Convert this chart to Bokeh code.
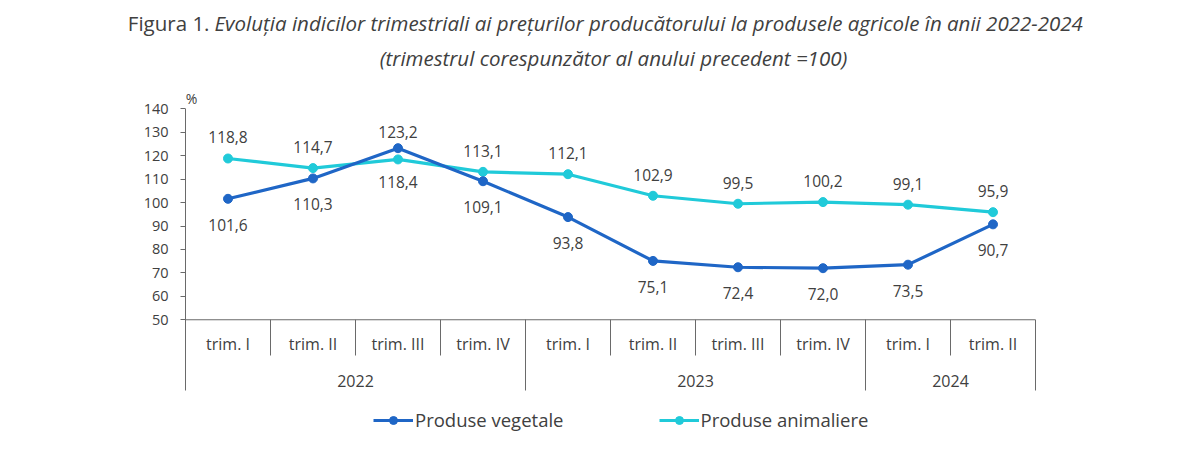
from bokeh.plotting import figure
from bokeh.models import ColumnDataSource, Range1d, FixedTicker, Legend, LegendItem
from bokeh.core.properties import value
from bokeh.embed import file_html
from bokeh.resources import INLINE

# ---- data ----
quarters = ["trim. I", "trim. II", "trim. III", "trim. IV",
            "trim. I", "trim. II", "trim. III", "trim. IV",
            "trim. I", "trim. II"]
years = ["2022", "2023", "2024"]
year_counts = [4, 4, 2]
vegetale = [101.6, 110.3, 123.2, 109.1, 93.8, 75.1, 72.4, 72.0, 73.5, 90.7]
animaliere = [118.8, 114.7, 118.4, 113.1, 112.1, 102.9, 99.5, 100.2, 99.1, 95.9]
y_ticks = [50, 60, 70, 80, 90, 100, 110, 120, 130, 140]

title_bold = "Figura 1."
title_italic = ("Evoluția indicilor trimestriali ai prețurilor producătorului "
                "la produsele agricole în anii 2022-2024")
subtitle = "(trimestrul corespunzător al anului precedent =100)"
unit_label = "%"
name_veg = "Produse vegetale"
name_anim = "Produse animaliere"

# ---- styles / layout ----
FONT = "Open Sans"
TXT = "#404040"
AX = "#6a6a6a"
C_VEG = "#1f66c6"
C_ANIM = "#20cad9"
W, H = 1192, 448
PX_PER_UNIT = 2.344          # vertical scale of the value axis
TOP_PX = 108.3               # where 140 sits from the top
LEFT_PX = 185                # where the value axis sits
CELL_PX = 85                 # width of one quarter
Y_TOP = 140
Y_END = Y_TOP + TOP_PX / PX_PER_UNIT
Y_START = Y_TOP - (H - TOP_PX) / PX_PER_UNIT
X_START = -LEFT_PX / CELL_PX
X_END = (W - LEFT_PX) / CELL_PX

def y_at(px):
    return Y_TOP - (px - TOP_PX) / PX_PER_UNIT

def x_at(px):
    return (px - LEFT_PX) / CELL_PX

n = len(quarters)
xs = [i + 0.5 for i in range(n)]

p = figure(width=W, height=H, output_backend="svg", toolbar_location=None,
           x_range=Range1d(X_START, X_END), y_range=Range1d(Y_START, Y_END),
           x_axis_location=None, y_axis_location="left",
           min_border_left=0, min_border_right=0,
           min_border_top=0, min_border_bottom=0)
p.outline_line_color = None
p.xgrid.visible = False
p.ygrid.visible = False
p.background_fill_color = "white"
p.border_fill_color = "white"

yax = p.yaxis[0]
yax.fixed_location = 0
yax.ticker = FixedTicker(ticks=y_ticks)
yax.minor_tick_line_color = None
yax.major_tick_in = 0
yax.major_tick_out = 5
yax.axis_line_color = None
yax.major_tick_line_color = AX
yax.major_label_text_font = FONT
yax.major_label_text_font_size = "14.5px"
yax.major_label_text_color = TXT
yax.major_label_standoff = 12

Y_TRIM_SEP = y_at(355)
Y_YEAR_SEP = y_at(390)

# vertical axis line (continues down as left edge of the category table)
p.segment(x0=[0], y0=[Y_TOP], x1=[0], y1=[Y_YEAR_SEP], line_color=AX, line_width=1)
# axis baseline at 50
p.segment(x0=[0], y0=[y_ticks[0]], x1=[n], y1=[y_ticks[0]], line_color=AX, line_width=1)

# category separators
sep_x = list(range(1, n))
p.segment(x0=sep_x, y0=[y_ticks[0]] * len(sep_x), x1=sep_x, y1=[Y_TRIM_SEP] * len(sep_x),
          line_color=AX, line_width=1)
bounds = []
acc = 0
for c in year_counts:
    acc += c
    bounds.append(acc)
p.segment(x0=bounds, y0=[y_ticks[0]] * len(bounds), x1=bounds, y1=[Y_YEAR_SEP] * len(bounds),
          line_color=AX, line_width=1)

# category labels
p.text(x=xs, y=[y_at(343)] * n, text=quarters, text_align="center", text_baseline="middle",
       text_font=value(FONT), text_font_size="16px", text_color=TXT)
year_x = []
start = 0
for c in year_counts:
    year_x.append(start + c / 2)
    start += c
p.text(x=year_x, y=[y_at(380)] * len(years), text=years, text_align="center",
       text_baseline="middle", text_font=value(FONT), text_font_size="16px",
       text_color=TXT)

# series
la = p.line(xs, animaliere, line_color=C_ANIM, line_width=3.2)
sa = p.scatter(xs, animaliere, size=9, fill_color=C_ANIM, line_color=C_ANIM)
lv = p.line(xs, vegetale, line_color=C_VEG, line_width=3.2)
sv = p.scatter(xs, vegetale, size=9, fill_color=C_VEG, line_color=C_VEG)

def fmt(v):
    return f"{v:.1f}".replace(".", ",")

lab_x, lab_y, lab_t, lab_dy = [], [], [], []
for i in range(n):
    v, a = vegetale[i], animaliere[i]
    lab_x += [xs[i], xs[i]]
    lab_y += [v, a]
    lab_t += [fmt(v), fmt(a)]
    if v > a:
        lab_dy += [-16, 23]
    else:
        lab_dy += [26, -21]
src = ColumnDataSource(dict(x=lab_x, y=lab_y, t=lab_t, dy=lab_dy))
p.text(x="x", y="y", text="t", y_offset="dy", source=src, text_align="center",
       text_baseline="middle", text_font=value(FONT), text_font_size="15.5px",
       text_color=TXT)

# titles and unit
p.text(x=[x_at(209)], y=[y_at(22)], text=[title_bold], text_align="right",
       text_baseline="middle", text_font=value(FONT), text_font_size="20.5px",
       text_color=TXT)
p.text(x=[x_at(214)], y=[y_at(22)], text=[title_italic], text_align="left",
       text_baseline="middle", text_font=value(FONT), text_font_size="20.5px",
       text_font_style="italic", text_color=TXT)
p.text(x=[x_at(613)], y=[y_at(57)], text=[subtitle], text_align="center",
       text_baseline="middle", text_font=value(FONT), text_font_size="20.5px",
       text_font_style="italic", text_color=TXT)
p.text(x=[x_at(191)], y=[y_at(98)], text=[unit_label], text_align="center",
       text_baseline="middle", text_font=value(FONT), text_font_size="14px",
       text_color=TXT)

legend = Legend(items=[LegendItem(label=name_veg, renderers=[lv, sv]),
                       LegendItem(label=name_anim, renderers=[la, sa])],
                orientation="horizontal", location=(373, 16),
                glyph_width=40, glyph_height=20, label_standoff=2, spacing=95,
                padding=0, margin=0, border_line_color=None,
                background_fill_alpha=0,
                label_text_font=FONT, label_text_font_size="18.5px",
                label_text_color=TXT)
p.add_layout(legend)

open("out.html", "w").write(file_html(p, INLINE))
